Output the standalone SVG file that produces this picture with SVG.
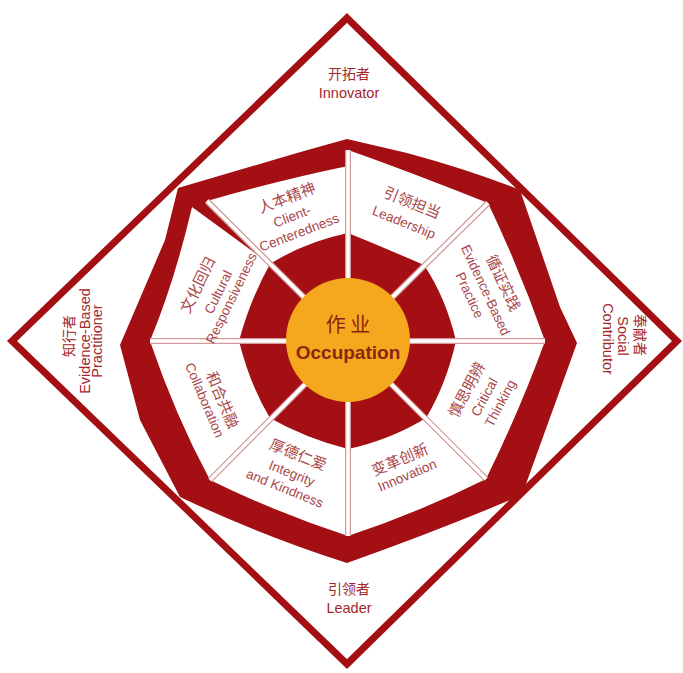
<svg xmlns="http://www.w3.org/2000/svg" width="683" height="673" viewBox="0 0 683 673">
<style>
.red{fill:#a30f12}
.seg{fill:#ffffff}
.dv1{stroke:#d29a9b;stroke-width:6;fill:none}
.dv2{stroke:#ffffff;stroke-width:3.5;fill:none}
.zh{font-family:"Noto Sans CJK SC","Noto Sans",sans-serif;font-size:15px;fill:#a9474a;text-anchor:middle}
.en{font-family:"Liberation Sans","Noto Sans",sans-serif;font-size:13.5px;fill:#a9474a;text-anchor:middle}
.ozh{font-family:"Noto Sans CJK SC","Noto Sans",sans-serif;font-size:14px;fill:#a3272c;text-anchor:middle}
.oen{font-family:"Liberation Sans","Noto Sans",sans-serif;font-size:14.5px;fill:#a3272c;text-anchor:middle}
</style>
<rect width="683" height="673" fill="#ffffff"/>
<g id="frame">
<polygon points="347,18 677,341 347,664 12,341" fill="none" stroke="#a30f12" stroke-width="7" stroke-linejoin="miter"/>
</g>
<g id="band">
<path class="red" d="M577,343 L560,307 L520,190 Q470,170 407,153 L347,139 Q300,152 280,158 L178,188 L165,240 L120,345 L140,420 L180,497 Q260,535 347,563 Q440,530 522,495 L560,390 Z"/>
</g>
<g id="segments">
<path id="seg-leadership" class="seg" d="M348,233 L348,150 Q405,170 488,203 L424,265 Q385,248 348,233 Z"/>
<path id="seg-client" class="seg" d="M270,264 L207,201 Q280,180 348,166 L348,233 Q305,242 270,264 Z"/>
<path id="seg-cultural" class="seg" d="M239,341 L150,341 Q175,280 192,207 L270,264 Q250,300 239,341 Z"/>
<path id="seg-collab" class="seg" d="M270,418 L210,480 Q175,415 150,341 L239,341 Q250,385 270,418 Z"/>
<path id="seg-integrity" class="seg" d="M348,449 L348,536 Q275,512 210,480 L270,418 Q305,438 348,449 Z"/>
<path id="seg-innovation" class="seg" d="M426,418 L486,479 Q420,512 348,536 L348,449 Q390,440 426,418 Z"/>
<path id="seg-critical" class="seg" d="M456,341 L545,341 Q520,410 486,479 L426,418 Q446,385 456,341 Z"/>
<path id="seg-evidence" class="seg" d="M424,265 L488,203 Q520,270 545,341 L456,341 Q446,298 424,265 Z"/>
</g>
<g id="connectors">
<path class="dv1" d="M348,341 L348,150 M348,341 L348,536 M348,341 L150,341 M348,341 L545,341 M348,341 L207,201 M348,341 L488,203 M348,341 L210,480 M348,341 L486,479"/>
<path class="dv2" d="M348,341 L348,150 M348,341 L348,536 M348,341 L150,341 M348,341 L545,341 M348,341 L207,201 M348,341 L488,203 M348,341 L210,480 M348,341 L486,479"/>
</g>
<g id="center">
<circle cx="348" cy="340" r="62" fill="#f5a81e"/>
<text x="348" y="332" font-family="'Noto Sans CJK SC',sans-serif" font-size="20" fill="#8b2410" text-anchor="middle">作 业</text>
<text x="348" y="359" font-family="'Liberation Sans',sans-serif" font-size="19" font-weight="bold" fill="#8b2410" text-anchor="middle">Occupation</text>
</g>
<g id="client">
<text class="zh" x="287" y="203" transform="rotate(-21 287 198)">人本精神</text>
<text class="en" x="292" y="221" transform="rotate(-21 292 216)">Client-</text>
<text class="en" x="299" y="237" transform="rotate(-21 299 232)">Centeredness</text>
</g>
<g id="leadership">
<text class="zh" x="412" y="208" transform="rotate(22 412 203)">引领担当</text>
<text class="en" x="404" y="227" transform="rotate(22 404 222)">Leadership</text>
</g>
<g id="evidence">
<text class="zh" x="503" y="288" transform="rotate(65 503 283)">循证实践</text>
<text class="en" x="486" y="295" transform="rotate(65 486 290)">Evidence-Based</text>
<text class="en" x="470" y="300" transform="rotate(65 470 295)">Practice</text>
</g>
<g id="critical">
<text class="zh" x="467" y="395" transform="rotate(-62 467 390)">慎思明辨</text>
<text class="en" x="484" y="402" transform="rotate(-62 484 397)">Critical</text>
<text class="en" x="500" y="408" transform="rotate(-62 500 403)">Thinking</text>
</g>
<g id="innovation">
<text class="zh" x="400" y="465" transform="rotate(-23 400 460)">变革创新</text>
<text class="en" x="407" y="480" transform="rotate(-23 407 475)">Innovation</text>
</g>
<g id="integrity">
<text class="zh" x="298" y="460" transform="rotate(22 298 455)">厚德仁爱</text>
<text class="en" x="292" y="478" transform="rotate(22 292 473)">Integrity</text>
<text class="en" x="285" y="493" transform="rotate(22 285 488)">and Kindness</text>
</g>
<g id="collab">
<text class="zh" x="222" y="405" transform="rotate(67 222 400)">和合共融</text>
<text class="en" x="205" y="405" transform="rotate(67 205 400)">Collaboration</text>
</g>
<g id="cultural">
<text class="zh" x="198" y="290" transform="rotate(-64 198 285)">文化回归</text>
<text class="en" x="218" y="297" transform="rotate(-64 218 292)">Cultural</text>
<text class="en" x="231" y="303" transform="rotate(-64 231 298)">Responsiveness</text>
</g>
<g id="innovator">
<text class="ozh" x="349" y="79">开拓者</text>
<text class="oen" x="349" y="98">Innovator</text>
</g>
<g id="leader">
<text class="ozh" x="349" y="594">引领者</text>
<text class="oen" x="349" y="613">Leader</text>
</g>
<g id="practitioner">
<text class="ozh" x="79" y="341" transform="rotate(-90 74 341)">知行者</text>
<text class="oen" x="95" y="346" transform="rotate(-90 90 346)">Evidence-Based</text>
<text class="oen" x="107" y="346" transform="rotate(-90 102 346)">Practitioner</text>
</g>
<g id="contributor">
<text class="ozh" x="630" y="340" transform="rotate(90 635 340)">奉献者</text>
<text class="oen" x="613" y="341" transform="rotate(90 618 341)">Social</text>
<text class="oen" x="598" y="344" transform="rotate(90 603 344)">Contributor</text>
</g>
</svg>
